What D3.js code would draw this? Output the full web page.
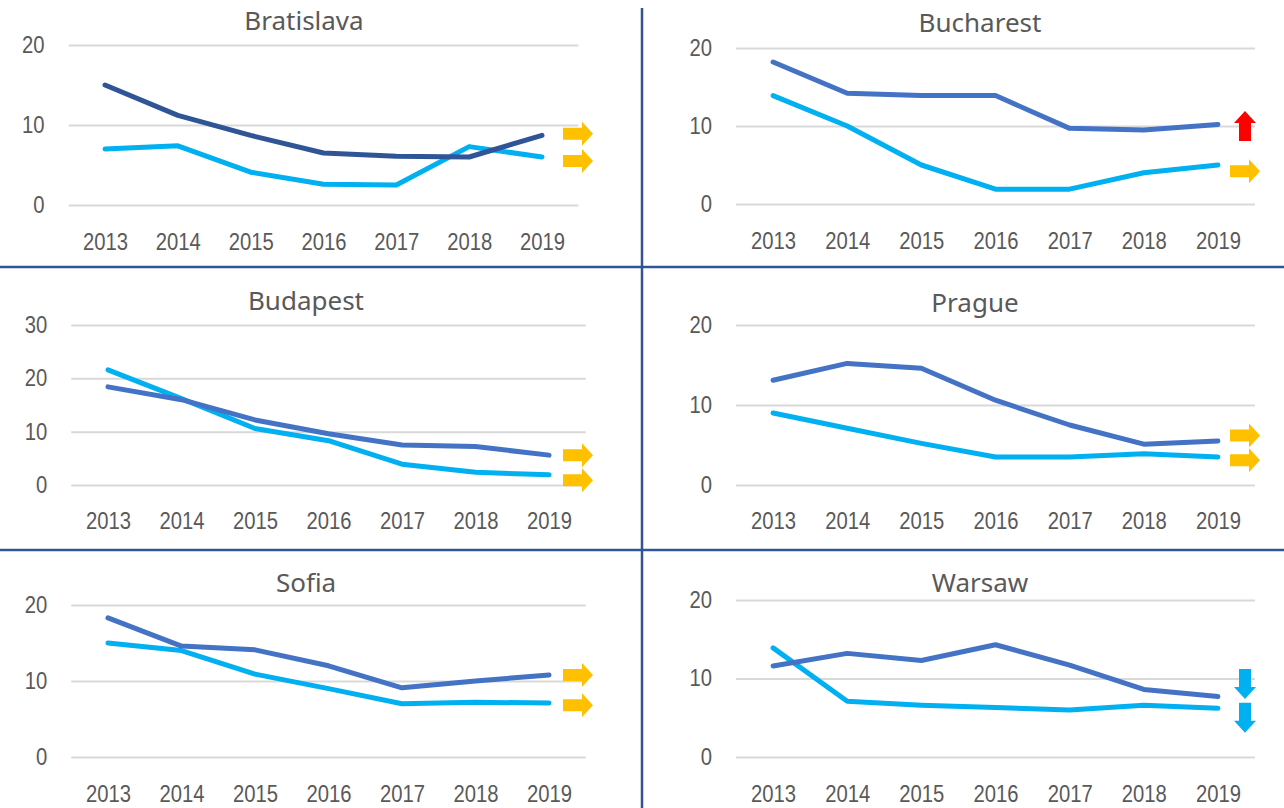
<!DOCTYPE html>
<html>
<head>
<meta charset="utf-8">
<script src="https://cdn.jsdelivr.net/npm/d3@7"></script>
<style>
  body { margin: 0; background: #fff; }
  svg { display: block; font-family: "Noto Sans", "Open Sans", sans-serif; }
</style>
</head>
<body>
<svg width="1284" height="808"></svg>
<script>
const years = [2013, 2014, 2015, 2016, 2017, 2018, 2019];
const cities = ["Bratislava", "Bucharest", "Budapest", "Prague", "Sofia", "Warsaw"];

// first series (darker blue) per city
const bratislavaA = [15.0, 11.2, 8.7, 6.5, 6.1, 6.0, 8.7];
const bucharestA  = [18.2, 14.2, 13.9, 13.9, 9.7, 9.5, 10.2];
const budapestA   = [18.4, 16.0, 12.2, 9.6, 7.5, 7.2, 5.6];
const pragueA     = [13.1, 15.2, 14.6, 10.6, 7.5, 5.1, 5.5];
const sofiaA      = [18.3, 14.6, 14.1, 12.0, 9.1, 10.0, 10.8];
const warsawA     = [11.6, 13.2, 12.3, 14.3, 11.7, 8.6, 7.7];

// second series (light blue) per city
const bratislavaB = [7.0, 7.4, 4.1, 2.6, 2.5, 7.3, 6.0];
const bucharestB  = [13.9, 10.0, 5.0, 1.9, 1.9, 4.0, 5.0];
const budapestB   = [21.6, 16.2, 10.6, 8.3, 3.9, 2.4, 1.9];
const pragueB     = [9.0, 7.1, 5.2, 3.5, 3.5, 3.9, 3.5];
const sofiaB      = [15.0, 14.0, 10.9, 9.0, 7.0, 7.2, 7.1];
const warsawB     = [13.9, 7.1, 6.6, 6.3, 6.0, 6.6, 6.2];

const yMax = [20, 20, 30, 20, 20, 20];

// trend arrows next to each panel: direction and level (in data units)
const arrowDir = [
  ["right", "right"], ["up", "right"], ["right", "right"],
  ["right", "right"], ["right", "right"], ["down", "down"]
];
const arrowLevel = [
  [8.9, 5.5], [10.0, 4.2], [5.6, 0.9],
  [6.2, 3.1], [10.8, 6.8], [9.3, 5.0]
];

const seriesA = [bratislavaA, bucharestA, budapestA, pragueA, sofiaA, warsawA];
const seriesB = [bratislavaB, bucharestB, budapestB, pragueB, sofiaB, warsawB];

// panel geometry (plot areas)
const layout = [
  { x0: 68.6, x1: 578.4, yTop: 45,  yBot: 205, arrowX: 578,  titleX: 304, titleY: 30,  yearY: 250 },
  { x0: 736,  x1: 1255,  yTop: 48,  yBot: 204, arrowX: 1245, titleX: 980, titleY: 32,  yearY: 249 },
  { x0: 71.2, x1: 585.8, yTop: 325, yBot: 485, arrowX: 578,  titleX: 306, titleY: 310, yearY: 529 },
  { x0: 736,  x1: 1255,  yTop: 325, yBot: 485, arrowX: 1245, titleX: 975, titleY: 312, yearY: 529 },
  { x0: 71.2, x1: 585.8, yTop: 605, yBot: 757, arrowX: 578,  titleX: 306, titleY: 592, yearY: 802 },
  { x0: 736,  x1: 1255,  yTop: 600, yBot: 757, arrowX: 1245, titleX: 980, titleY: 592, yearY: 802 }
];

const colorA = ["#2F5597", "#4472C4", "#4472C4", "#4472C4", "#4472C4", "#4472C4"];
const colorB = "#00B0F0";
const textColor = "#595959";
const squeeze = 0.88; // reference digits are narrow

const svg = d3.select("svg");

// dividers
svg.append("line").attr("x1", 0).attr("x2", 1284).attr("y1", 267).attr("y2", 267)
  .attr("stroke", "#2F5597").attr("stroke-width", 2.5);
svg.append("line").attr("x1", 0).attr("x2", 1284).attr("y1", 550).attr("y2", 550)
  .attr("stroke", "#2F5597").attr("stroke-width", 2.5);
svg.append("line").attr("x1", 642).attr("x2", 642).attr("y1", 8).attr("y2", 808)
  .attr("stroke", "#2F5597").attr("stroke-width", 2.5);

function arrowPath(dir) {
  // arrow centered at 0,0
  if (dir === "right") return "M-15,-6 L4,-6 L4,-12 L15,0 L4,12 L4,6 L-15,6 Z";
  if (dir === "up") return "M-6,15 L-6,-3 L-11,-3 L0,-15 L11,-3 L6,-3 L6,15 Z";
  return "M-6,-15 L-6,3 L-11,3 L0,15 L11,3 L6,3 L6,-15 Z";
}
const arrowColor = { right: "#FFC000", up: "#FF0000", down: "#00B0F0" };

cities.forEach((city, i) => {
  const L = layout[i];
  const g = svg.append("g");

  const x = d3.scalePoint().domain(years).range([L.x0, L.x1]).padding(0.5);
  const y = d3.scaleLinear().domain([0, yMax[i]]).range([L.yBot, L.yTop]);

  // gridlines + value labels
  const yAxis = d3.axisLeft(y).ticks(yMax[i] / 10).tickSize(-(L.x1 - L.x0)).tickPadding(0);
  const ya = g.append("g").attr("transform", `translate(${L.x0},0)`).call(yAxis);
  ya.select(".domain").remove();
  ya.selectAll(".tick line").attr("stroke", "#D9D9D9").attr("stroke-width", 2);
  ya.selectAll(".tick text")
    .attr("x", 0)
    .attr("transform", `translate(-24,0) scale(${squeeze},1)`)
    .attr("fill", textColor).attr("font-size", 23);

  // year labels
  const xAxis = d3.axisBottom(x).tickSize(0).tickPadding(0);
  const xa = g.append("g").attr("transform", `translate(0,${L.yearY - 16})`).call(xAxis);
  xa.select(".domain").remove();
  xa.selectAll(".tick text")
    .attr("transform", `scale(${squeeze},1)`)
    .attr("fill", textColor).attr("font-size", 23).attr("dy", "0.71em");

  // title
  g.append("text")
    .attr("x", L.titleX).attr("y", L.titleY)
    .attr("text-anchor", "middle")
    .attr("fill", textColor).attr("font-size", 26)
    .text(city);

  const line = d3.line().x((d, k) => x(years[k])).y(d => y(d));

  g.append("path").datum(seriesB[i])
    .attr("d", line).attr("fill", "none")
    .attr("stroke", colorB).attr("stroke-width", 5)
    .attr("stroke-linecap", "round").attr("stroke-linejoin", "round");
  g.append("path").datum(seriesA[i])
    .attr("d", line).attr("fill", "none")
    .attr("stroke", colorA[i]).attr("stroke-width", 5)
    .attr("stroke-linecap", "round").attr("stroke-linejoin", "round");

  // arrows
  arrowDir[i].forEach((dir, k) => {
    g.append("path")
      .attr("d", arrowPath(dir))
      .attr("transform", `translate(${L.arrowX},${y(arrowLevel[i][k])})`)
      .attr("fill", arrowColor[dir]);
  });
});
</script>
</body>
</html>
